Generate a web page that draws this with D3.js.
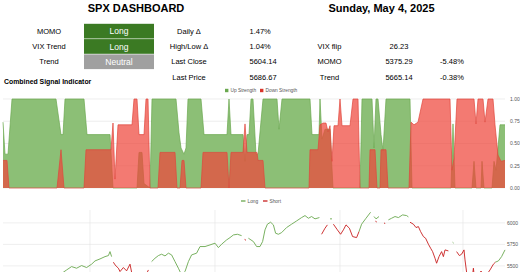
<!DOCTYPE html>
<html>
<head>
<meta charset="utf-8">
<script src="https://cdn.jsdelivr.net/npm/d3@7"></script>
<style>
  body { margin: 0; background: #fff; }
  svg { display: block; font-family: "Liberation Sans", Arial, Helvetica, sans-serif; }
</style>
</head>
<body>
<svg id="chart" width="520" height="272"></svg>
<script>
// header table
const signalLabels = ["MOMO", "VIX Trend", "Trend"];
const signalStates = ["Long", "Long", "Neutral"];
const statLabels = ["Daily Δ", "High/Low Δ", "Last Close", "Last Price"];
const statValues = ["1.47%", "1.04%", "5604.14", "5686.67"];
const levelLabels = ["VIX flip", "MOMO", "Trend"];
const levelValues = ["26.23", "5375.29", "5665.14"];
const levelChanges = ["", "-5.48%", "-0.38%"];

// combined signal indicator: [day, strength]
const upStrength = [
  [0, 0.74], [1, 0.38], [2.5, 0.38], [4.5, 1], [26.5, 1], [29, 0.6], [30, 0.6], [31, 1],
  [40.5, 1], [42, 0.6], [53.5, 0.6], [55, 0], [67, 0], [68, 0.4], [69.5, 0.4], [70.5, 0.05],
  [73.5, 0], [74.5, 1], [86.5, 1], [88, 0.62], [89, 0.45], [90.5, 0.38], [91.5, 0.45], [92.5, 1],
  [99, 1], [100.5, 0.6], [112, 0.6], [113, 1], [114, 0.6], [120, 0.6], [121, 0.3], [122, 0.6],
  [123, 0.6], [124, 1], [125, 1], [126.5, 0.38], [127.5, 0.38], [130, 1], [137, 1], [138, 0.66],
  [139.5, 1], [153.5, 1], [154.5, 0.6], [158, 0.6], [158.5, 1], [159.5, 0.55], [161, 0.66],
  [163.5, 0.66], [165, 0], [178.5, 0], [179.5, 1], [184.5, 1], [185.5, 0.45], [186.5, 1],
  [187.5, 1], [189, 0.6], [190, 0.42], [191.5, 1], [203.5, 1], [204.5, 0], [224, 0], [225, 0.72],
  [226, 0], [234.5, 0], [235.5, 0.3], [236.5, 0], [239, 0], [239.5, 0.3], [240.5, 0], [244.5, 0],
  [245.5, 0.3], [246.5, 0.2], [248.5, 0.71], [251, 0.71]
];
const downStrength = [
  [0, 0.31], [2, 0.31], [3, 0], [27, 0], [29, 0.43], [30.5, 0], [40.5, 0], [41.5, 0.43],
  [54, 0.43], [55, 0.73], [56, 0.1], [57.5, 0.71], [64.5, 0.71], [65.5, 1], [67, 1], [68, 0.6],
  [70.5, 0.6], [71.5, 1], [72.5, 1], [73.5, 0], [77.5, 0], [78.5, 0.4], [86, 0.4], [87, 0],
  [88.5, 0], [89.5, 0.31], [90.5, 0.31], [91.5, 0], [99, 0], [100, 0.4], [112, 0.4], [113, 0],
  [114, 0.4], [120, 0.4], [121, 0.72], [122, 0.4], [127, 0.4], [127.5, 0.31], [130, 0.31],
  [131, 0], [153, 0], [153.5, 0.43], [157.5, 0.43], [158.5, 0.71], [160, 0.73], [161.5, 0.73],
  [162.5, 0.63], [163.5, 0.7], [164.5, 0.3], [165.5, 0.7], [167.5, 0.7], [168.5, 1], [169.5, 0.7],
  [173.5, 0.7], [175, 1], [177.5, 1], [178.5, 0], [183, 0], [183.5, 0.43], [186, 0.43], [187, 0],
  [188.5, 0], [189, 0.43], [191.5, 0.43], [192.5, 0], [203, 0], [204, 0.74], [205.5, 0.71],
  [207.5, 0.74], [210, 1], [223.5, 1], [224.5, 0.2], [225.5, 0.33], [227, 1], [235.5, 1],
  [236.5, 0.72], [237.5, 1], [240, 1], [241, 0.74], [242.5, 1], [245, 1], [246, 0.71],
  [247.5, 0.37], [249, 0.3], [251, 0.31]
];

// SPX close, split by signal: [day, price], null = gap
const longPrice = [
  [28, 5390], [30.2, 5427], [31.8, 5453], [34.3, 5492], [36.8, 5473], [39.3, 5504], [41.8, 5481],
  [44.3, 5520], [46, 5558], [48.5, 5581], [51, 5608], [52.7, 5620], [53.5, 5666], [54.3, 5608], null,
  [74.3, 5550], [76, 5589], [77.7, 5620], [79.3, 5636], [81, 5616], [82.7, 5648], [84.3, 5628],
  [86, 5550], [87.7, 5473], [89.3, 5395], [91, 5434], [92.7, 5550], [94.3, 5628], [96.8, 5648],
  [98.5, 5725], [101, 5725], [103.5, 5744], [106, 5764], [107.7, 5713], [109.3, 5752], [111.8, 5802],
  [113.5, 5829], [115.2, 5860], [117.2, 5868], [119.3, 5852], null,
  [122.7, 5822], [125.2, 5783], [126.8, 5725], [128.5, 5725], [129.8, 5783], [131, 5919],
  [132.2, 5985], [133.8, 6008], [135.2, 5977], [136.3, 5880], [137.7, 5868], [139.3, 5887],
  [141.8, 5946], [144.3, 5985], [146.8, 6023], [149.3, 6062], [151, 6085], [152.7, 6054],
  [154.3, 6074], [156, 6047], [158.2, 6062], null,
  [163.5, 6047], [164.5, 6047], null,
  [178, 5899], [179.3, 5985], [181.5, 6054], [183.8, 6124], null,
  [185.5, 6074], [186.5, 6047], [188, 6074], null,
  [192.7, 6035], [194.3, 6054], [196, 6074], [197.7, 6062], [199.8, 6093], [201.8, 6085],
  [202.7, 6070], null,
  [224.8, 5775], [225.3, 5765], null,
  [246.2, 5543], [247.7, 5558], [249.3, 5608], [251, 5686]
];
const shortPrice = [
  [55.2, 5543], [56, 5512], [57.7, 5473], [58.5, 5434], [60.2, 5481], [61.8, 5442], [63.5, 5520],
  [64.3, 5427], [66, 5360], [68.5, 5320], [70.5, 5380], [71.8, 5410], [72.7, 5453], null,
  [120.8, 5808], [121.5, 5798], null,
  [159.3, 5868], [161, 5938], [162.2, 5977], null,
  [165.2, 5985], [167.2, 5919], [168.8, 5868], [170.2, 5919], [171.5, 5977], [173.2, 5938],
  [174.8, 5841], [176.8, 5829], [178, 5899], null,
  [186.2, 6020], [186.9, 6010], null,
  [190.5, 5998], [191.1, 5994], null,
  [203.5, 6008], [205.2, 5985], [206.5, 5946], [207.7, 5957], [208.8, 5899], [210.2, 5841],
  [211.3, 5822], [212.7, 5752], [213.8, 5706], [214.8, 5666], [216, 5589], [216.8, 5531],
  [218, 5608], [219.3, 5666], [220.2, 5608], [221, 5686], [222.7, 5674], null,
  [226.8, 5666], [228.2, 5620], [229.3, 5636], [230.5, 5686], [231, 5570], [231.8, 5427],
  [232.5, 5300], [234, 5250], [235.2, 5473], [236, 5300], [237.5, 5380], [239, 5440],
  [240.5, 5390], [242.5, 5420], [243.5, 5453], [245.2, 5520], [246.2, 5543]
];

const strengthTicks = [0, 0.25, 0.5, 0.75, 1];
const priceTicks = [5500, 5750, 6000];
const periodTicks = [43.5, 106, 168.5, 230];

const svg = d3.select("#chart");
const green = "#8cbf76", greenLine = "#6aa84f", red = "rgba(238,70,60,0.72)", redLine = "#e0463c";

// ---- header
svg.append("text").attr("x", 136).attr("y", 12).attr("text-anchor", "middle")
  .attr("font-size", 11).attr("font-weight", "bold").text("SPX DASHBOARD");
svg.append("text").attr("x", 381.5).attr("y", 12).attr("text-anchor", "middle")
  .attr("font-size", 11).attr("font-weight", "bold").text("Sunday, May 4, 2025");

const row = d3.scaleBand().domain(d3.range(4)).range([23.5, 84.7]);
const mid = i => row(i) + row.bandwidth() / 2;

const sig = svg.append("g");
sig.selectAll("text.lab").data(signalLabels).join("text").attr("class", "lab")
  .attr("x", 49).attr("y", (d, i) => mid(i)).attr("dy", "0.35em")
  .attr("text-anchor", "middle").attr("font-size", 7.5).text(d => d);
sig.selectAll("rect").data(signalStates).join("rect")
  .attr("x", 84).attr("y", (d, i) => row(i) + 0.3).attr("width", 70)
  .attr("height", row.bandwidth() - 0.6)
  .attr("fill", d => d === "Long" ? "#3b7a23" : d === "Short" ? "#c00000" : "#a0a0a0");
sig.selectAll("text.state").data(signalStates).join("text").attr("class", "state")
  .attr("x", 119).attr("y", (d, i) => mid(i)).attr("dy", "0.36em")
  .attr("text-anchor", "middle").attr("font-size", 8.5).attr("fill", "#fff").text(d => d);

const stats = svg.append("g");
stats.selectAll("text.lab").data(statLabels).join("text").attr("class", "lab")
  .attr("x", 189).attr("y", (d, i) => mid(i)).attr("dy", "0.35em")
  .attr("text-anchor", "middle").attr("font-size", 7.5).text(d => d);
stats.selectAll("text.val").data(statValues).join("text").attr("class", "val")
  .attr("x", 249.5).attr("y", (d, i) => mid(i)).attr("dy", "0.35em")
  .attr("font-size", 7.5).text(d => d);

const lev = svg.append("g");
lev.selectAll("text.lab").data(levelLabels).join("text").attr("class", "lab")
  .attr("x", 329.5).attr("y", (d, i) => mid(i + 1)).attr("dy", "0.35em")
  .attr("text-anchor", "middle").attr("font-size", 7.5).text(d => d);
lev.selectAll("text.val").data(levelValues).join("text").attr("class", "val")
  .attr("x", 399).attr("y", (d, i) => mid(i + 1)).attr("dy", "0.35em")
  .attr("text-anchor", "middle").attr("font-size", 7.5).text(d => d);
lev.selectAll("text.chg").data(levelChanges).join("text").attr("class", "chg")
  .attr("x", 452).attr("y", (d, i) => mid(i + 1)).attr("dy", "0.35em")
  .attr("text-anchor", "middle").attr("font-size", 7.5).text(d => d);

svg.append("text").attr("x", 4).attr("y", 83.5).attr("font-size", 6.9)
  .attr("font-weight", "bold").text("Combined Signal Indicator");

// ---- shared x
const x = d3.scaleLinear().domain([0, 251]).range([3, 505]);

// ---- strength area chart
const ys = d3.scaleLinear().domain([0, 1]).range([188, 99]);
const sg = svg.append("g");
sg.selectAll("line").data(strengthTicks).join("line")
  .attr("x1", x(0)).attr("x2", x(251)).attr("y1", d => ys(d)).attr("y2", d => ys(d))
  .attr("stroke", "#e2e2e2").attr("stroke-width", 0.6);
sg.selectAll("text").data(strengthTicks).join("text")
  .attr("x", 510).attr("y", d => ys(d)).attr("dy", "0.35em")
  .attr("font-size", 5).attr("fill", "#555").text(d3.format(".2f"));

const area = d3.area().x(d => x(d[0])).y0(ys(0)).y1(d => ys(d[1]));
const edge = d3.line().x(d => x(d[0])).y(d => ys(d[1]));
sg.append("path").datum(upStrength).attr("d", area).attr("fill", green);
sg.append("path").datum(upStrength).attr("d", edge).attr("fill", "none")
  .attr("stroke", greenLine).attr("stroke-width", 0.7);
sg.append("path").datum(downStrength).attr("d", area).attr("fill", red);
sg.append("path").datum(downStrength).attr("d", edge).attr("fill", "none")
  .attr("stroke", redLine).attr("stroke-width", 0.7);

const lg1 = svg.append("g").attr("font-size", 4.8).attr("fill", "#555");
[["Up Strength", greenLine, 225], ["Down Strength", "#d9352b", 260]].forEach(([t, c, px]) => {
  lg1.append("rect").attr("x", px).attr("y", 88.8).attr("width", 3.4).attr("height", 3.4).attr("fill", c);
  lg1.append("text").attr("x", px + 5.5).attr("y", 90.5).attr("dy", "0.35em").text(t);
});

// ---- price chart
const yp = d3.scaleLinear().domain([5250, 6150]).range([287.4, 210]);
const pg = svg.append("g");
pg.selectAll("line.h").data(priceTicks).join("line").attr("class", "h")
  .attr("x1", x(0)).attr("x2", x(251)).attr("y1", d => yp(d)).attr("y2", d => yp(d))
  .attr("stroke", "#e2e2e2").attr("stroke-width", 0.6);
pg.selectAll("line.v").data(periodTicks).join("line").attr("class", "v")
  .attr("x1", d => x(d)).attr("x2", d => x(d)).attr("y1", 210).attr("y2", 272)
  .attr("stroke", "#e2e2e2").attr("stroke-width", 0.6);
pg.selectAll("text").data(priceTicks).join("text")
  .attr("x", 507).attr("y", d => yp(d)).attr("dy", "0.35em")
  .attr("font-size", 5).attr("fill", "#555").text(d => d);

const pline = d3.line().defined(d => d).x(d => x(d[0])).y(d => yp(d[1]));
pg.append("path").datum(longPrice).attr("d", pline).attr("fill", "none")
  .attr("stroke", "#6aa84f").attr("stroke-width", 0.9);
pg.append("path").datum(shortPrice).attr("d", pline).attr("fill", "none")
  .attr("stroke", "#c81e1e").attr("stroke-width", 0.9);

const lg2 = svg.append("g").attr("font-size", 4.8).attr("fill", "#555");
[["Long", "#6aa84f", 241], ["Short", "#c81e1e", 263]].forEach(([t, c, px]) => {
  lg2.append("line").attr("x1", px).attr("x2", px + 4.5).attr("y1", 201).attr("y2", 201)
    .attr("stroke", c).attr("stroke-width", 1.3);
  lg2.append("text").attr("x", px + 6.5).attr("y", 201).attr("dy", "0.35em").text(t);
});
</script>
</body>
</html>
